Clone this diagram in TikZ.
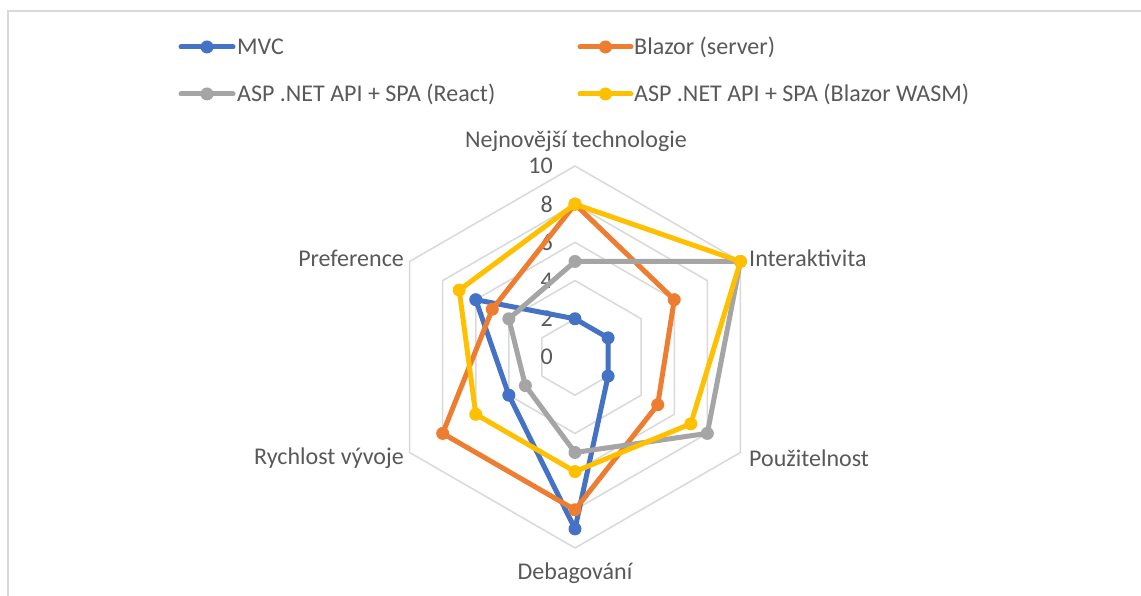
\documentclass[tikz,border=0pt]{standalone}
\usepackage{fontspec}
\setmainfont{Carlito}
\usetikzlibrary{calc}
\definecolor{cmvc}{HTML}{4472C4}
\definecolor{cbla}{HTML}{ED7D31}
\definecolor{crea}{HTML}{A5A5A5}
\definecolor{cwas}{HTML}{FFC000}
\definecolor{txt}{HTML}{595959}
\definecolor{gridc}{HTML}{D9D9D9}
\begin{document}
\begin{tikzpicture}[x=1pt,y=1pt,
  gridline/.style={draw=gridc, line width=1.5pt, line join=round},
  series/.style={line width=5pt, line join=round, draw=#1},
  dot/.style={circle, fill=#1, inner sep=0pt, minimum size=13pt},
  lbl/.style={text=txt, font=\fontsize{24}{28}\selectfont, inner sep=0pt},
]
\def\u{19.1}
\useasboundingbox (0,0) rectangle (1141,596);
\fill[white] (0,0) rectangle (1141,596);
\draw[gridc, line width=2pt] (8,-2) -- (8,585) -- (1143,585);
\coordinate (C) at (575,239);
\begin{scope}[shift={(C)}]
  \foreach \r in {2,4,...,10}
    \draw[gridline] (90:\r*\u) -- (30:\r*\u) -- (-30:\r*\u) -- (-90:\r*\u) -- (-150:\r*\u) -- (150:\r*\u) -- cycle;
  % tick labels
  \foreach \r in {0,2,...,10}
    \node[lbl, anchor=east] (t\r) at (-22, \r*\u) {\r};
  % series coordinates
  \foreach \name/\vals in {m/{2,2,2,9,4,6}, b/{8,6,5,8,8,5}, r/{5,10,8,5,3,4}, w/{8,10,7,6,6,7}}{
    \foreach \v [count=\i] in \vals {
      \pgfmathsetmacro{\ang}{90-60*(\i-1)}
      \coordinate (\name\i) at (\ang:\v*\u);
    }
  }
\end{scope}
\foreach \name/\col in {m/cmvc, b/cbla, r/crea, w/cwas}{
  \draw[series=\col] (\name1) -- (\name2) -- (\name3) -- (\name4) -- (\name5) -- (\name6) -- cycle;
  \foreach \i in {1,...,6} \node[dot=\col] (\name d\i) at (\name\i) {};
}
% axis labels
\node[lbl] (a1) at (576,455) {Nejnovější technologie};
\node[lbl, anchor=west] (a2) at (749,338) {Interaktivita};
\node[lbl, anchor=west] (a3) at (749,138) {Použitelnost};
\node[lbl] (a4) at (575,23) {Debagování};
\node[lbl, anchor=east] (a5) at (404,138) {Rychlost vývoje};
\node[lbl, anchor=east] (a6) at (404,338) {Preference};
% legend
\coordinate (l1a) at (181,549); \coordinate (l1b) at (233,549);
\coordinate (l2a) at (181,502); \coordinate (l2b) at (233,502);
\coordinate (l3a) at (580,549); \coordinate (l3b) at (631,549);
\coordinate (l4a) at (580,502); \coordinate (l4b) at (631,502);
\draw[series=cmvc, line cap=round] (l1a) -- (l1b); \node[dot=cmvc] (ld1) at ($(l1a)!0.5!(l1b)$) {};
\draw[series=crea, line cap=round] (l2a) -- (l2b); \node[dot=crea] (ld2) at ($(l2a)!0.5!(l2b)$) {};
\draw[series=cbla, line cap=round] (l3a) -- (l3b); \node[dot=cbla] (ld3) at ($(l3a)!0.5!(l3b)$) {};
\draw[series=cwas, line cap=round] (l4a) -- (l4b); \node[dot=cwas] (ld4) at ($(l4a)!0.5!(l4b)$) {};
\node[lbl, anchor=west] (lt1) at (237,549) {MVC};
\node[lbl, anchor=west] (lt2) at (237,502) {ASP .NET API + SPA (React)};
\node[lbl, anchor=west] (lt3) at (634,549) {Blazor (server)};
\node[lbl, anchor=west] (lt4) at (634,502) {ASP .NET API + SPA (Blazor WASM)};
\end{tikzpicture}
\end{document}
